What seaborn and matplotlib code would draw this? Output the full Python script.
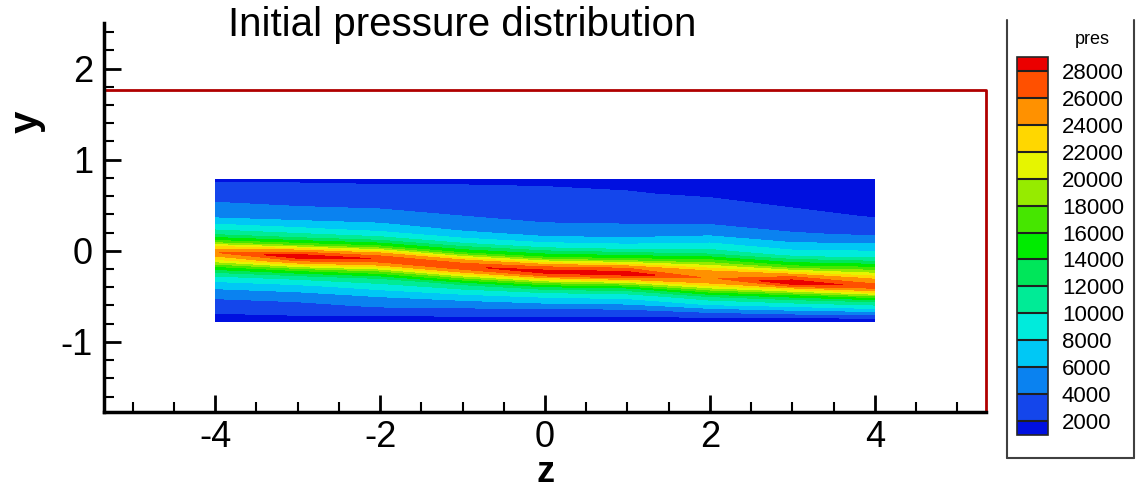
import numpy as np
import matplotlib
matplotlib.use("Agg")
import matplotlib.pyplot as plt
from matplotlib.lines import Line2D
import seaborn as sns

# stations along z where the pressure was read, and the y of the jet ridge there
z_stations = [-4, -3, -2, -1, 0, 1, 2, 3, 4]
ridge_y = [-0.02, -0.06, -0.09, -0.17, -0.23, -0.25, -0.30, -0.35, -0.39]

# rows: fraction of the way from the ridge to the top wall (+) / bottom wall (-)
s_rows = [1.0, 0.85, 0.65, 0.48, 0.36, 0.26, 0.15, 0.07, 0.0,
          -0.09, -0.2, -0.32, -0.45, -0.6, -0.75, -0.9, -1.0]

pres = [
    [1700, 1800, 1800, 1800, 1700, 1600, 1500, 1200, 1000],
    [2800, 2500, 2300, 2300, 2300, 2100, 1800, 1500, 1300],
    [4300, 4000, 3800, 3500, 3300, 3200, 3000, 2300, 1950],
    [5900, 5700, 5500, 4700, 4300, 4300, 4600, 4100, 3800],
    [8700, 8300, 7600, 6800, 6400, 6400, 7900, 6600, 7000],
    [11300, 11000, 10600, 10200, 10000, 9800, 10900, 9800, 10200],
    [16800, 17000, 16800, 16300, 16500, 16500, 18500, 16800, 18000],
    [23000, 25000, 24500, 24300, 25000, 25200, 24200, 25300, 23800],
    [25800, 29500, 27800, 27600, 29000, 29200, 25600, 29600, 27000],
    [22500, 25000, 24500, 25000, 25800, 26000, 24800, 26200, 25300],
    [16000, 17000, 17500, 18500, 19000, 19000, 21000, 20800, 21000],
    [10500, 10800, 11500, 12300, 13000, 13000, 16000, 15500, 16000],
    [7200, 7600, 8700, 9000, 9000, 9200, 11000, 11500, 11500],
    [4700, 5000, 6000, 6200, 6500, 6600, 8200, 8200, 8600],
    [3100, 3400, 4200, 4000, 3700, 3800, 4600, 5000, 5000],
    [1800, 2000, 2000, 2000, 1800, 1800, 2000, 2000, 1900],
    [1400, 1400, 1400, 1400, 1300, 1300, 1300, 1300, 1300],
]

jet_top, jet_bottom = 0.78, -0.78
domain_z = (-5.35, 5.35)
domain_y = (-1.77, 1.76)

levels = list(range(2000, 28001, 2000))
band_colors = ['#0010e0',  # below 2000
               '#1446eb', '#0a82f0', '#00c8f5', '#00ebdc', '#00eb96',
               '#00e65a', '#00eb00', '#46e600', '#96eb00', '#e6f500',
               '#ffd700', '#ff9100', '#ff5000',
               '#eb0000']  # above 28000

sns.set_style("ticks")
plt.rcParams['font.family'] = ['Liberation Sans', 'DejaVu Sans']
plt.rcParams['text.color'] = 'black'
plt.rcParams['xtick.color'] = 'black'
plt.rcParams['ytick.color'] = 'black'

# curvilinear grid following the ridge
Z, Y = [], []
for s in s_rows:
    zr, yr = [], []
    for z, yc in zip(z_stations, ridge_y):
        if s >= 0:
            yr.append(yc + s * (jet_top - yc))
        else:
            yr.append(yc + s * (yc - jet_bottom))
        zr.append(z)
    Z.append(zr)
    Y.append(yr)
Z = np.array(Z)
Y = np.array(Y)
P = np.array(pres, dtype=float)

fig = plt.figure(figsize=(11.38, 4.92), dpi=100)
ax = fig.add_axes([104 / 1138, 1 - 412 / 492, (986 - 104) / 1138, (412 - 23) / 492])

cs = ax.contourf(Z, Y, P, levels=levels, colors=band_colors, extend='both')

# domain boundary
ax.plot([domain_z[0], domain_z[0], domain_z[1], domain_z[1]],
        [domain_y[0], domain_y[1], domain_y[1], domain_y[0]],
        color='#b00000', lw=2, zorder=3, clip_on=False)

ax.set_xlim(domain_z)
ax.set_ylim(-1.77, 2.5)
ax.set_xticks([-4, -2, 0, 2, 4])
ax.set_xticks(np.arange(-5, 5.01, 0.5), minor=True)
ax.set_yticks([-1, 0, 1, 2])
ax.set_yticks(np.arange(-1.6, 2.41, 0.2), minor=True)
ax.tick_params(which='both', bottom=True, left=True, top=False, right=False)
ax.tick_params(which='major', direction='in', length=12, width=2,
               labelsize=26, pad=7, color='black', labelcolor='black')
ax.tick_params(axis='y', which='major', pad=8)
ax.tick_params(axis='x', which='major', pad=6)
ax.tick_params(which='minor', direction='in', length=7, width=1.5, color='black')
ax.set_xticklabels(['-4', '-2', '0', '2', '4'])
ax.set_yticklabels(['-1', '0', '1', '2'])
for side in ['top', 'right']:
    ax.spines[side].set_visible(False)
for side in ['left', 'bottom']:
    ax.spines[side].set_visible(True)
    ax.spines[side].set_color('black')
    ax.spines[side].set_linewidth(2.5)
    ax.spines[side].set_zorder(4)
ax.set_xlabel('')
ax.set_ylabel('')

fig.text(545 / 1138, 1 - 473 / 492, 'z', fontsize=26, fontweight='bold',
         ha='center', va='center')
fig.text(27 / 1138, 1 - 122 / 492, 'y', fontsize=29, fontweight='bold',
         rotation=90, ha='center', va='center')
fig.text(462 / 1138, 1 - 25 / 492, 'Initial pressure distribution',
         fontsize=29, ha='center', va='center')

# legend
cax = fig.add_axes([1017 / 1138, 1 - 435 / 492, 31 / 1138, 378 / 492])
cb = fig.colorbar(cs, cax=cax, extendrect=True, extendfrac=0.04,
                  drawedges=True, ticks=levels)
cb.outline.set_linewidth(1.2)
cb.dividers.set_color('#202020')
cb.dividers.set_linewidth(1.5)
cax.tick_params(length=0, labelsize=16, pad=10, labelcolor='black')
cax.set_yticklabels([str(v) for v in levels])
fig.text(1092 / 1138, 1 - 40 / 492, 'pres', fontsize=13, ha='center', va='center')

for xs, ys in [([1007, 1007], [20, 458]), ([1007, 1134], [458, 458]),
               ([1134, 1134], [20, 458])]:
    fig.add_artist(Line2D([x / 1138 for x in xs], [1 - y / 492 for y in ys],
                          color='#404040', lw=1.5))

fig.savefig('out.png', dpi=100)
